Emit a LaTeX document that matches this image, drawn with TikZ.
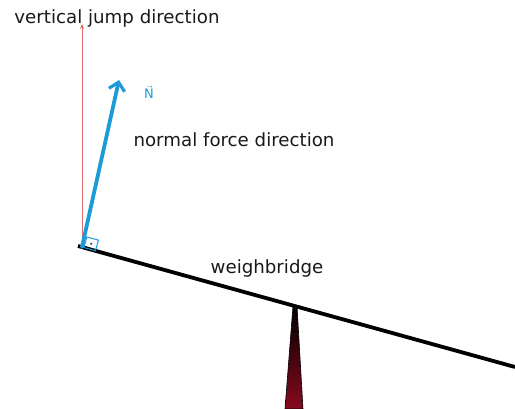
\documentclass[tikz,border=0pt]{standalone}
\usepackage{amsmath}
\usepackage{fontspec}
\setsansfont{DejaVu Sans}
\usepackage{tikz}
\usetikzlibrary{arrows.meta, calc}
\definecolor{normalblue}{RGB}{30, 155, 215}
\definecolor{jumpred}{RGB}{225, 110, 110}
\definecolor{basered}{RGB}{135, 10, 30}

\begin{document}
\begin{tikzpicture}[x=1pt, y=-1pt,
    lbl/.style={font=\sffamily\fontsize{18.2}{21}\selectfont, text=black!90, inner sep=0pt}]
  \useasboundingbox (0,0) rectangle (515,409);

  % Points
  \coordinate (foot) at (82,247);
  \coordinate (beamstart) at (78,246);
  \coordinate (beamend) at (515,367);
  \coordinate (jumptip) at (82,24);
  \coordinate (normaltip) at (119,80);

  % Support
  \shade[top color=black, bottom color=basered, draw=black, line width=0.6pt]
    (293,306) -- (297,306) -- (303,409) -- (285,409) -- cycle;

  % Beam
  \draw[line width=3.8pt] (beamstart) -- (beamend);

  % Vertical jump direction
  \draw[jumpred, line width=0.7pt, -{Stealth[length=5pt, width=4pt]}]
    (foot) -- (jumptip);

  % Normal force
  \draw[normalblue, line width=3.8pt, line cap=round,
        -{Straight Barb[length=8pt, width=16pt, line width=3.2pt]}]
    (foot) -- (normaltip);

  % Right angle
  \begin{scope}[shift={(foot)}, rotate=-15.4]
    \draw[normalblue, line width=1pt] (2,0) rectangle (14,-11);
    \fill[normalblue!60!black] (8,-5.5) circle (1.2pt);
  \end{scope}

  % Labels
  \node[lbl] (jumplbl) at (117,18) {vertical jump direction};
  \node[lbl, text=normalblue, font=\sffamily\fontsize{13}{15}\selectfont]
    (nlbl) at (149,92) {$\vec{\text{N}}$};
  \node[lbl] (normallbl) at (234,140) {normal force direction};
  \node[lbl] (bridgelbl) at (267,268) {weighbridge};
\end{tikzpicture}
\end{document}
